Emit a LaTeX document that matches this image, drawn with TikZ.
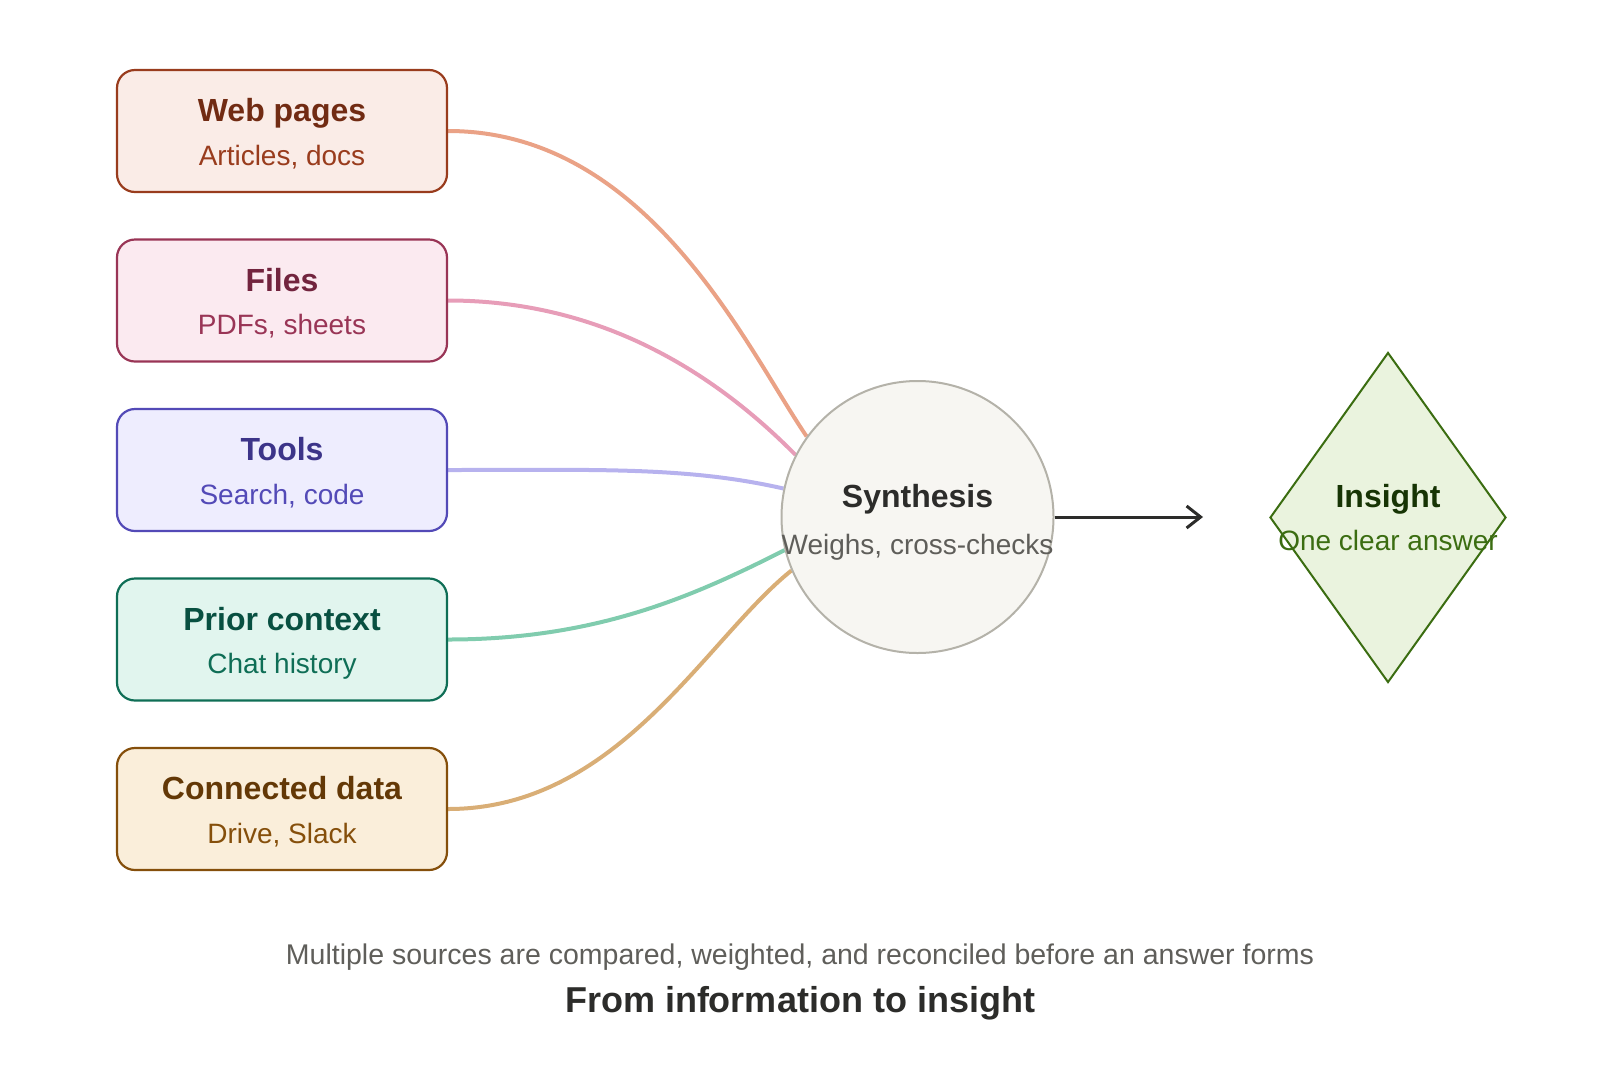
\documentclass[tikz,border=0pt]{standalone}
\usepackage{fontspec}
\setmainfont{Liberation Sans}
\usetikzlibrary{shapes.geometric,arrows.meta}
\definecolor{webF}{HTML}{FAECE7}\definecolor{webS}{HTML}{993C1D}\definecolor{webT}{HTML}{712B13}\definecolor{webE}{HTML}{EAA286}
\definecolor{filF}{HTML}{FBEAF0}\definecolor{filS}{HTML}{993556}\definecolor{filT}{HTML}{72243E}\definecolor{filE}{HTML}{E79DB8}
\definecolor{tooF}{HTML}{EEEDFE}\definecolor{tooS}{HTML}{534AB7}\definecolor{tooT}{HTML}{3C3489}\definecolor{tooE}{HTML}{B7B2EE}
\definecolor{priF}{HTML}{E1F5EE}\definecolor{priS}{HTML}{0F6E56}\definecolor{priT}{HTML}{085041}\definecolor{priE}{HTML}{80CCAE}
\definecolor{conF}{HTML}{FAEEDA}\definecolor{conS}{HTML}{854F0B}\definecolor{conT}{HTML}{633806}\definecolor{conE}{HTML}{D9AE76}
\definecolor{synF}{HTML}{F7F6F2}\definecolor{synS}{HTML}{B4B2A9}\definecolor{ink}{HTML}{2C2C2A}\definecolor{gry}{HTML}{5F5E5A}
\definecolor{insF}{HTML}{EAF3DE}\definecolor{insS}{HTML}{3B6D11}\definecolor{insT}{HTML}{173404}
\pgfdeclarelayer{bg}\pgfsetlayers{bg,main}
\tikzset{
  srcbox/.style={draw=#1S, fill=#1F, rounded corners=9pt, line width=1.1pt, minimum width=165pt, minimum height=61pt, inner sep=0pt},
  ttl/.style={anchor=base, font=\bfseries\fontsize{16pt}{19pt}\selectfont, inner sep=0pt},
  sub/.style={anchor=base, font=\fontsize{14pt}{17pt}\selectfont, inner sep=0pt},
  edge/.style={line width=2pt},
}
\begin{document}
\begin{tikzpicture}[x=0.5pt,y=-0.5pt]
\useasboundingbox (0,0) rectangle (1600,1082);
% source boxes
\node[srcbox=web] (web) at (282,131) {};
\node[ttl,text=webT] (webt) at (282,121.5) {Web pages};
\node[sub,text=webS] (webs) at (282,165) {Articles, docs};
\node[srcbox=fil] (fil) at (282,300.5) {};
\node[ttl,text=filT] (filt) at (282,291) {Files};
\node[sub,text=filS] (fils) at (282,334.5) {PDFs, sheets};
\node[srcbox=too] (too) at (282,470) {};
\node[ttl,text=tooT] (toot) at (282,460.5) {Tools};
\node[sub,text=tooS] (toos) at (282,504) {Search, code};
\node[srcbox=pri] (pri) at (282,639.5) {};
\node[ttl,text=priT] (prit) at (282,630) {Prior context};
\node[sub,text=priS] (pris) at (282,673.5) {Chat history};
\node[srcbox=con] (con) at (282,809) {};
\node[ttl,text=conT] (cont) at (282,799.5) {Connected data};
\node[sub,text=conS] (cons) at (282,843) {Drive, Slack};
% synthesis circle
\node[circle, draw=synS, fill=synF, line width=1pt, minimum size=136pt, inner sep=0pt] (syn) at (917.5,517) {};
\node[ttl,text=ink] (synt) at (917.5,507) {Synthesis};
\node[sub,text=gry] (syns) at (917.5,554) {Weighs, cross-checks};
% insight diamond
\node[diamond, draw=insS, fill=insF, line width=1pt, minimum width=118pt, minimum height=165pt, inner sep=0pt] (ins) at (1388,517.5) {};
\node[ttl,text=insT] (inst) at (1388,507) {Insight};
\node[sub,text=insS] (inss) at (1388,550) {One clear answer};
% connectors
\begin{pgfonlayer}{bg}
\draw[edge,webE] (web.east) .. controls +(200,0) and +(-60,-88) .. (syn.144);
\draw[edge,filE] (fil.east) .. controls +(150,0) and +(-84,-85) .. (syn.153.5);
\draw[edge,tooE] (too.east) .. controls +(150,0) and +(-97,-22) .. (syn.168.6);
\draw[edge,priE] (pri.east) .. controls +(150,0) and +(-89,45) .. (syn.194);
\draw[edge,conE] (con.east) .. controls +(170,0) and +(-86,69) .. (syn.203.5);
\end{pgfonlayer}
\coordinate (arrEnd) at (1203,517);
\draw[ink, line width=1.5pt, -{Straight Barb[length=7pt,width=11pt]}] (syn.east) -- (arrEnd);
% caption
\node[anchor=base, font=\fontsize{14.25pt}{17pt}\selectfont, text=gry, inner sep=0pt] (cap) at (800,964) {Multiple sources are compared, weighted, and reconciled before an answer forms};
\node[anchor=base, font=\bfseries\fontsize{18pt}{22pt}\selectfont, text=ink, inner sep=0pt] (head) at (800,1012) {From information to insight};
\end{tikzpicture}
\end{document}
